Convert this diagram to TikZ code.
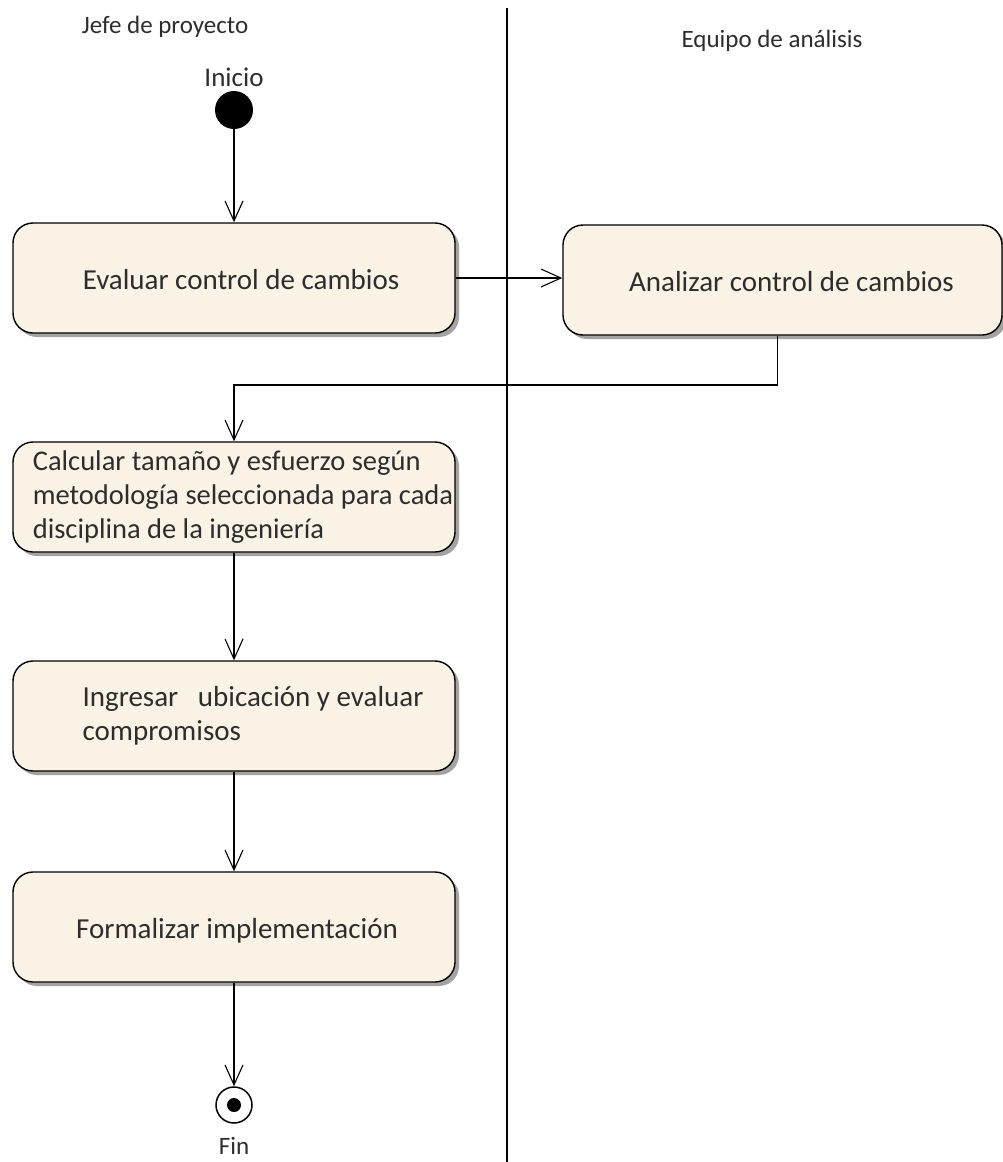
\documentclass[tikz,border=0pt]{standalone}
\usepackage{fontspec}
\setmainfont{Carlito}
\usetikzlibrary{arrows.meta,shadows}
\definecolor{actfill}{RGB}{250,242,229}
\definecolor{ink}{RGB}{45,45,45}
\begin{document}
\begin{tikzpicture}[x=1pt,y=-1pt,
  action/.style={draw=black, line width=1.4pt, rounded corners=20pt, fill=actfill,
    minimum width=442pt, minimum height=110pt, text=ink, inner sep=0pt,
    font=\fontsize{29}{34}\selectfont,
    drop shadow={shadow xshift=4pt, shadow yshift=-4pt, fill=black!45, opacity=0.8}},
  oneline/.style={text height=29pt, text depth=7pt},
  flow/.style={line width=1.3pt, -{Straight Barb[length=20pt,width=18pt,line width=1.1pt]}},
  lanelabel/.style={text=ink, font=\fontsize{25}{30}\selectfont},
]
\useasboundingbox (0,0) rectangle (1003,1162);
\fill[white] (0,0) rectangle (1003,1162);

% swimlane divider and lane titles
\coordinate (laneTop) at (507,8);
\coordinate (laneBottom) at (507,1162);
\draw[line width=1.8pt] (laneTop) -- (laneBottom);
\node[lanelabel] (laneA) at (165,27) {Jefe de proyecto};
\node[lanelabel] (laneB) at (772,41) {Equipo de análisis};

% initial node
\node[lanelabel, font=\fontsize{27}{30}\selectfont] (inicio) at (234,77) {Inicio};
\node[circle, fill=black, minimum size=38pt, inner sep=0pt] (start) at (234,110) {};

% actions
\node[action, oneline] (b1) at (234,278) {\hspace*{14pt}Evaluar control de cambios};
\node[action, oneline, minimum width=439pt] (b2) at (782.5,280) {\hspace*{18pt}Analizar control de cambios};
\node[action, align=left, font=\fontsize{28.5}{34}\selectfont] (b3) at (234,497)
  {\hspace*{18pt}Calcular tamaño y esfuerzo según\\
   \hspace*{18pt}metodología seleccionada para cada\\
   \hspace*{18pt}disciplina de la ingeniería};
\node[action, align=left] (b4) at (234,716)
  {\hspace*{38pt}Ingresar\ \ \ ubicación y evaluar\\
   \hspace*{38pt}compromisos};
\node[action, oneline] (b5) at (234,927) {\hspace*{6pt}Formalizar implementación};

% final node
\node[circle, draw=black, line width=1.5pt, fill=white, minimum size=36pt, inner sep=0pt] (end) at (234,1105) {};
\node[circle, fill=black, minimum size=14pt, inner sep=0pt] (enddot) at (end.center) {};
\node[lanelabel] (fin) at (234,1146) {Fin};

% control flow
\coordinate (turn) at (234,385);
\draw[flow] (start) -- (b1);
\draw[flow] (b1.east) -- (b1.east -| b2.west);
\draw[flow] ([xshift=-5pt]b2.south) |- (turn) -- (b3.north);
\draw[flow] (b3) -- (b4);
\draw[flow] (b4) -- (b5);
\draw[flow] (b5.south) -- (end.north);
\end{tikzpicture}
\end{document}
